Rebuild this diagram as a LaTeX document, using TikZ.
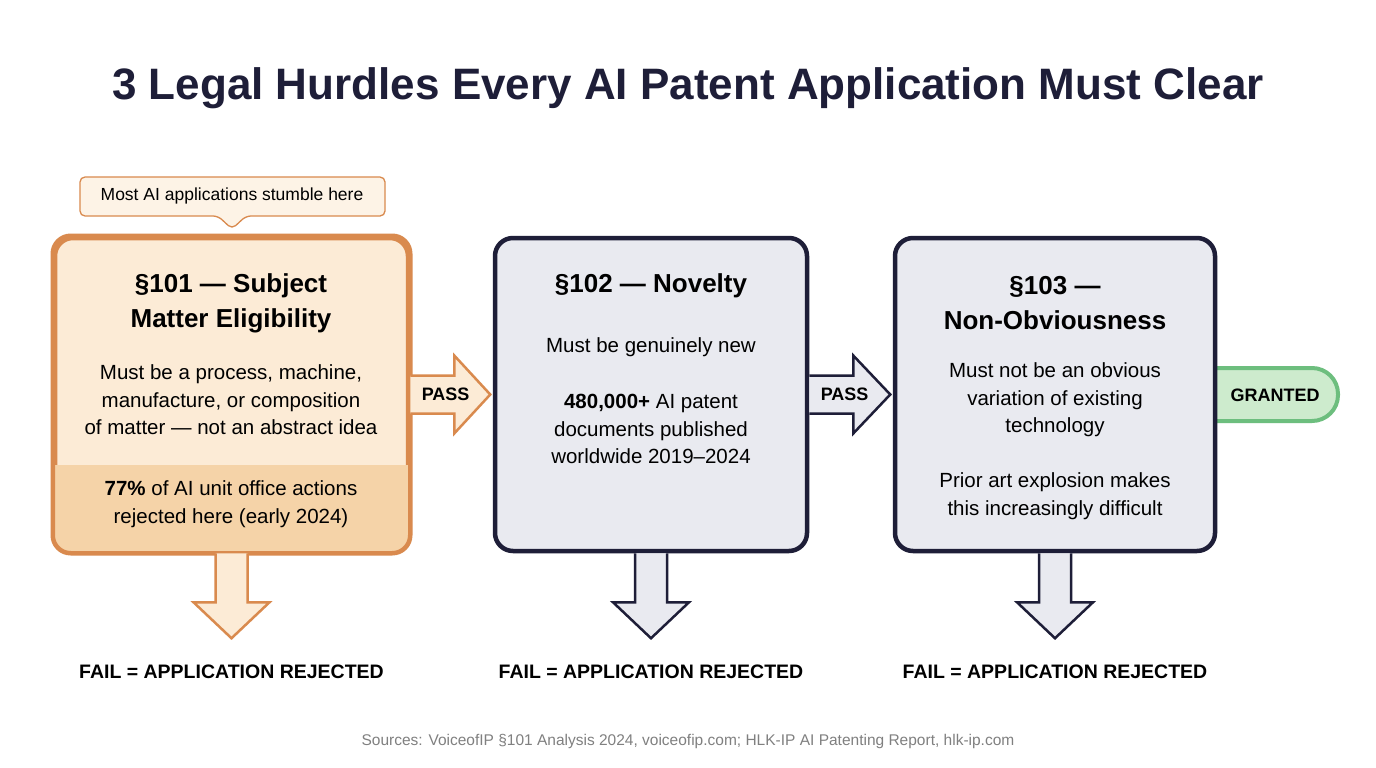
\documentclass[tikz,border=0pt]{standalone}
\usepackage{fontspec}
\setmainfont{Liberation Sans}
\usetikzlibrary{positioning}
\definecolor{navy}{HTML}{1E1E38}
\definecolor{boxgray}{HTML}{E9EAF0}
\definecolor{rust}{HTML}{D98A4E}
\definecolor{peach}{HTML}{FCEBD6}
\definecolor{band}{HTML}{F5D3A8}
\definecolor{leaf}{HTML}{6DBE7E}
\definecolor{mint}{HTML}{CDEBCD}
\begin{document}
\begin{tikzpicture}[x=1pt,y=-1pt,
  hurdle/.style={draw=navy,fill=boxgray,line width=4.5pt,rounded corners=18pt,minimum height=313pt,inner sep=0pt},
  hurdleo/.style={hurdle,draw=rust,fill=peach},
  head/.style={font=\fontsize{26}{35}\selectfont\bfseries,align=center,text=black},
  body/.style={font=\fontsize{20.5}{27.5}\selectfont,align=center,text=black},
  lab/.style={font=\fontsize{18}{20}\selectfont\bfseries,text=black},
  blockarr/.style={line width=2.5pt,line join=miter}]
  \useasboundingbox[fill=white] (0,0) rectangle (1376,768);
  \node[font=\fontsize{44}{48}\selectfont\bfseries,text=navy] (title) at (688,88) {3 Legal Hurdles Every AI Patent Application Must Clear};
  % green end
  \draw[draw=leaf,fill=mint,line width=4pt,rounded corners=26pt] (1200,368) -- (1338,368) -- (1338,421) -- (1200,421);
  \node[lab] (granted) at (1275,395) {GRANTED};
  % boxes
  \node[hurdleo,minimum width=353pt] (b1) at (231.5,394.5) {};
  \begin{scope}
    \clip[rounded corners=18pt] (b1.north west) rectangle (b1.south east);
    \fill[band] (55,465) rectangle (408,551);
  \end{scope}
  \draw[rust,line width=4.5pt,rounded corners=18pt] (b1.north west) rectangle (b1.south east);
  \node[hurdle,minimum width=312pt] (b2) at (651,394.5) {};
  \node[hurdle,minimum width=320pt] (b3) at (1055,394.5) {};
  % texts
  \node[head] (h1) at (231,303) {§101 — Subject\\Matter Eligibility};
  \node[body] (t1) at (231,400) {Must be a process, machine,\\manufacture, or composition\\of matter — not an abstract idea};
  \node[body] (s1) at (231,504) {\textbf{77\%} of AI unit office actions\\rejected here (early 2024)};
  \node[head] (h2) at (651,286) {§102 — Novelty};
  \node[body] (t2) at (651,347) {Must be genuinely new};
  \node[body] (s2) at (651,429) {\textbf{480,000+} AI patent\\documents published\\worldwide 2019–2024};
  \node[head] (h3) at (1055,303) {§103 —\\Non-Obviousness};
  \node[body] (t3) at (1055,400) {Must not be an obvious\\variation of existing\\technology};
  \node[body] (s3) at (1055,496) {Prior art explosion makes\\this increasingly difficult};
  % callout
  \draw[draw=rust,fill=peach!60,line width=1.3pt,rounded corners=5pt] (80,177) -- (385,177) -- (385,216) -- (246,216) -- (232,229) -- (218,216) -- (80,216) -- cycle;
  \node[font=\fontsize{17.5}{20}\selectfont] (note) at (232,196) {Most AI applications stumble here};
  % pass arrows
  \draw[blockarr,draw=rust,fill=peach,shift={(b1.east)}] (0,-19) -- (44,-19) -- (44,-39) -- (80,0) -- (44,39) -- (44,19) -- (0,19);
  \node[lab,right=8pt of b1.east] (p1) {PASS};
  \draw[blockarr,draw=navy,fill=boxgray,shift={(b2.east)}] (0,-19) -- (44,-19) -- (44,-39) -- (81,0) -- (44,39) -- (44,19) -- (0,19);
  \node[lab,right=8pt of b2.east] (p2) {PASS};
  % fail arrows
  \foreach \b/\c/\f in {b1/rust/peach,b2/navy/boxgray,b3/navy/boxgray}{
    \draw[blockarr,draw=\c,fill=\f,shift={(\b.south)}] (-16,0) -- (-16,49) -- (-38,49) -- (0,85) -- (38,49) -- (16,49) -- (16,0);
    \node[lab,font=\fontsize{19.5}{22}\selectfont\bfseries] (f\b) at ([yshift=-119pt]\b.south) {FAIL = APPLICATION REJECTED};
  }
  \node[font=\fontsize{15.5}{18}\selectfont,text=gray] (src) at (688,741) {Sources: VoiceofIP §101 Analysis 2024, voiceofip.com; HLK-IP AI Patenting Report, hlk-ip.com};
\end{tikzpicture}
\end{document}
